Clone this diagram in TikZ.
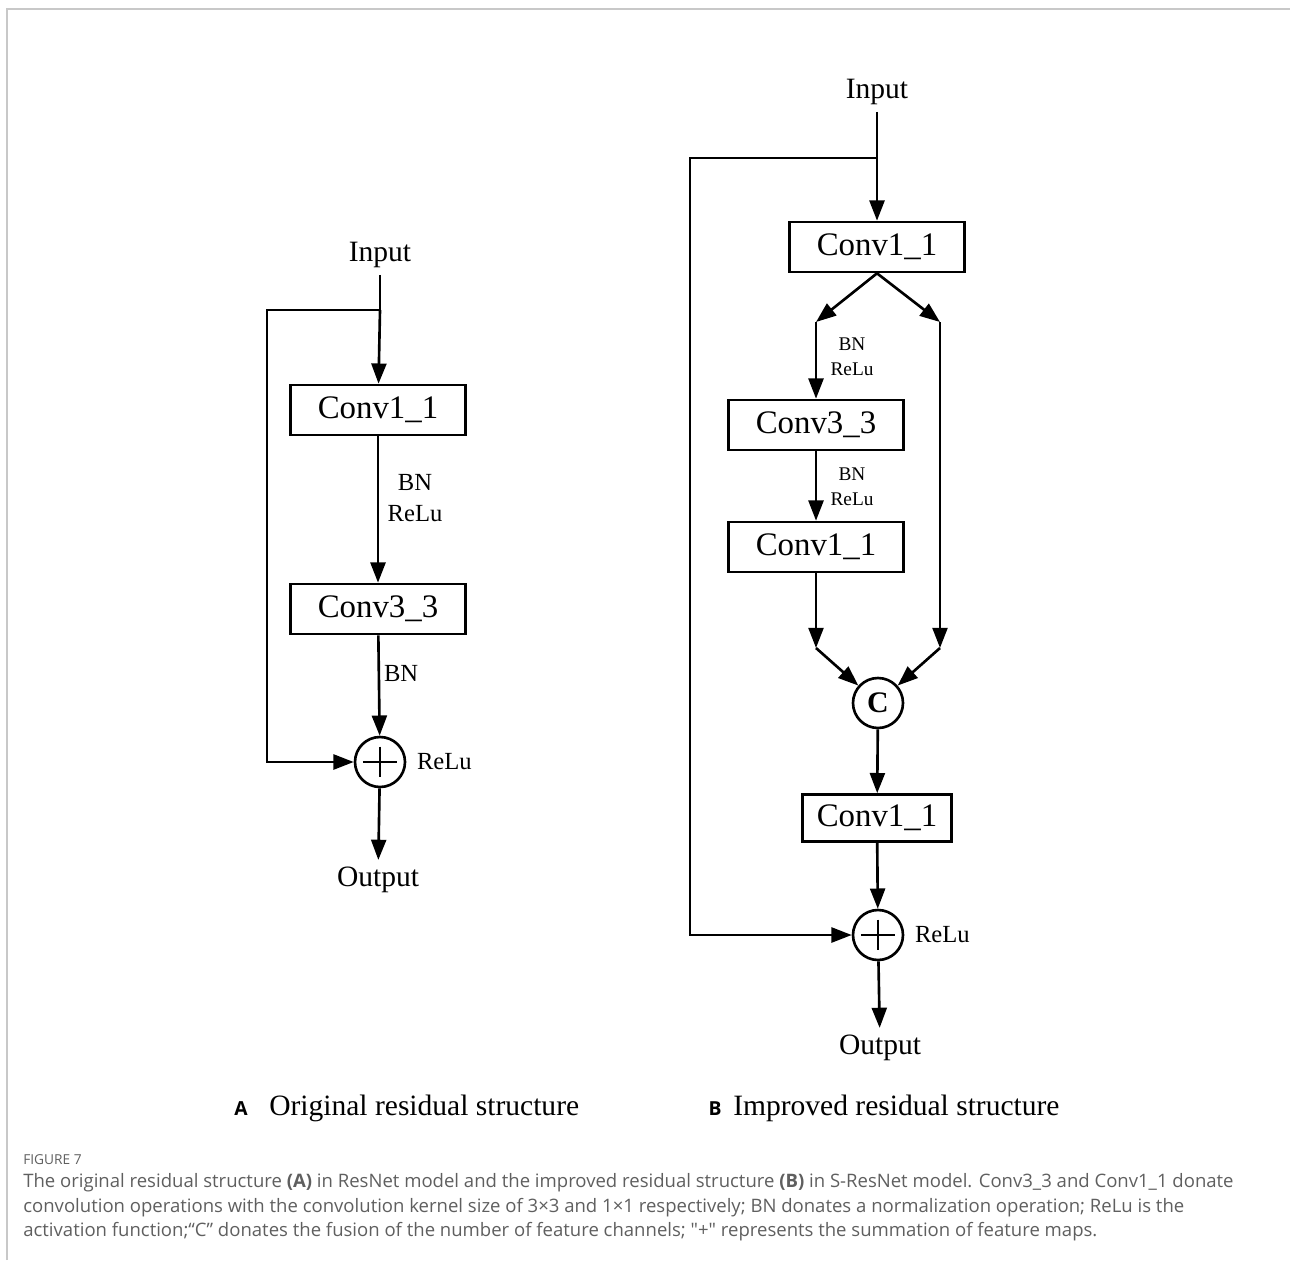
\documentclass[tikz,border=0pt]{standalone}
\usepackage{fontspec}
\setmainfont{Liberation Serif}
\newfontfamily\capfont{Open Sans}
\usetikzlibrary{arrows.meta,positioning,shapes}

\newcommand{\boxfont}{\fontsize{18.7pt}{22pt}\selectfont}
\newcommand{\iofont}{\fontsize{16.8pt}{20pt}\selectfont}
\newcommand{\lblfont}{\fontsize{14pt}{17.6pt}\selectfont}
\newcommand{\smlfont}{\fontsize{11pt}{14pt}\selectfont}

\begin{document}
\begin{tikzpicture}[x=0.02cm,y=-0.02cm,line width=1.5pt,
  every text node part/.style={align=center},
  convbox/.style={draw, rectangle, minimum width=3.5cm, minimum height=1cm, inner sep=0pt, font=\boxfont},
  sumnode/.style={draw, circle, minimum size=1cm, inner sep=0pt,
    path picture={\draw[line width=1.5pt] ([xshift=4.5pt]path picture bounding box.west) -- ([xshift=-4.5pt]path picture bounding box.east)
      ([yshift=-5.5pt]path picture bounding box.north) -- ([yshift=5.5pt]path picture bounding box.south);}},
  catnode/.style={draw, circle, minimum size=1cm, inner sep=0pt, font=\fontsize{17pt}{20pt}\selectfont\bfseries},
  arr/.style={-{Triangle[length=11.5pt,width=8.5pt]}},
  iolabel/.style={font=\iofont},
  oplabel/.style={font=\lblfont, inner sep=1pt},
  smlabel/.style={font=\smlfont, inner sep=1pt}]

\definecolor{framegray}{RGB}{200,200,200}
\definecolor{captiongray}{RGB}{95,95,95}

    \useasboundingbox (0,0) rectangle (1290,1260);
    \draw[framegray, line width=1pt] (7,1260) -- (7,9) -- (1290,9);

    %% (A) original residual block
    \node[iolabel] (inA) at (380,255) {Input};
    \coordinate (splitA) at (380,310);
    \coordinate (skipA1) at (267,310);
    \coordinate (skipA2) at (267,762);
    \node[convbox] (convA1) at (378,410) {Conv1\_1};
    \node[convbox] (convA3) at (378,609) {Conv3\_3};
    \node[sumnode] (addA) at (380,762) {};
    \node[oplabel] (bnreluA) at (415,498) {BN\\ReLu};
    \node[oplabel, anchor=west] (bnA) at (381,673) {BN};
    \node[oplabel, anchor=west] (reluA) at (414,762) {ReLu};
    \node[iolabel] (outA) at (378,880) {Output};

    \draw (inA.south) -- (splitA);
    \draw[arr] (splitA) -- (convA1);
    \draw[arr] (convA1) -- (convA3);
    \draw[arr] (convA3) -- (addA);
    \draw[arr] (splitA) -- (skipA1) -- (skipA2) -- (addA);
    \draw[arr] (addA) -- (outA);

    %% (B) improved residual block
    \node[iolabel] (inB) at (877,92) {Input};
    \coordinate (splitB) at (877,158);
    \coordinate (skipB1) at (690,158);
    \coordinate (skipB2) at (690,935);
    \node[convbox] (convB1) at (877,247) {Conv1\_1};
    \coordinate (forkL) at (816,322);
    \coordinate (forkR) at (940,322);
    \node[convbox] (convB3) at (816,425) {Conv3\_3};
    \node[convbox] (convB2) at (816,547) {Conv1\_1};
    \node[smlabel] (bnreluB1) at (852,357) {BN\\ReLu};
    \node[smlabel] (bnreluB2) at (852,487) {BN\\ReLu};
    \coordinate (joinL) at (816,648);
    \coordinate (joinR) at (940,648);
    \node[catnode] (catB) at (878,703) {C};
    \node[convbox, minimum width=2.98cm, minimum height=0.94cm] (convB4) at (877,818) {Conv1\_1};
    \node[sumnode] (addB) at (878,935) {};
    \node[oplabel, anchor=west] (reluB) at (912,935) {ReLu};
    \node[iolabel] (outB) at (880,1048) {Output};

    \draw (inB.south) -- (splitB);
    \draw[arr] (splitB) -- (convB1);
    \draw[arr] (convB1.south) -- (forkL);
    \draw[arr] (convB1.south) -- (forkR);
    \draw[arr] (forkL) -- (convB3);
    \draw[arr] (convB3) -- (convB2);
    \draw[arr] (convB2) -- (joinL);
    \draw[arr] (forkR) -- (joinR);
    \draw[arr] (joinL) -- (catB);
    \draw[arr] (joinR) -- (catB);
    \draw[arr] (catB) -- (convB4);
    \draw[arr] (convB4) -- (addB);
    \draw[arr] (splitB) -- (skipB1) -- (skipB2) -- (addB);
    \draw[arr] (addB) -- (outB);

    %% sub-captions
    \node[font=\capfont\bfseries\fontsize{11pt}{13pt}\selectfont] (tagA) at (241,1109) {A};
    \node[iolabel, anchor=west, inner sep=0pt] (titleA) at (268,1108) {Original residual structure};
    \node[font=\capfont\bfseries\fontsize{11pt}{13pt}\selectfont] (tagB) at (715,1109) {B};
    \node[iolabel, anchor=west, inner sep=0pt] (titleB) at (732,1108) {Improved residual structure};

    %% figure caption
    \begin{scope}[every node/.style={anchor=base west, inner sep=0pt, text=captiongray,
        font=\capfont\fontsize{10.55pt}{12pt}\selectfont}]
    \node[font=\capfont\fontsize{7.8pt}{9pt}\selectfont] (figno) at (22,1164) {FIGURE 7};
    \node (capline1) at (22,1187) {The original residual structure \textbf{(A)} in ResNet model and the improved residual structure \textbf{(B)} in S-ResNet model. Conv3\_3 and Conv1\_1 donate};
    \node (capline2) at (22,1212) {convolution operations with the convolution kernel size of 3×3 and 1×1 respectively; BN donates a normalization operation; ReLu is the};
    \node (capline3) at (22,1236) {activation function;“C” donates the fusion of the number of feature channels; "+" represents the summation of feature maps.};
    \end{scope}
\end{tikzpicture}
\end{document}
